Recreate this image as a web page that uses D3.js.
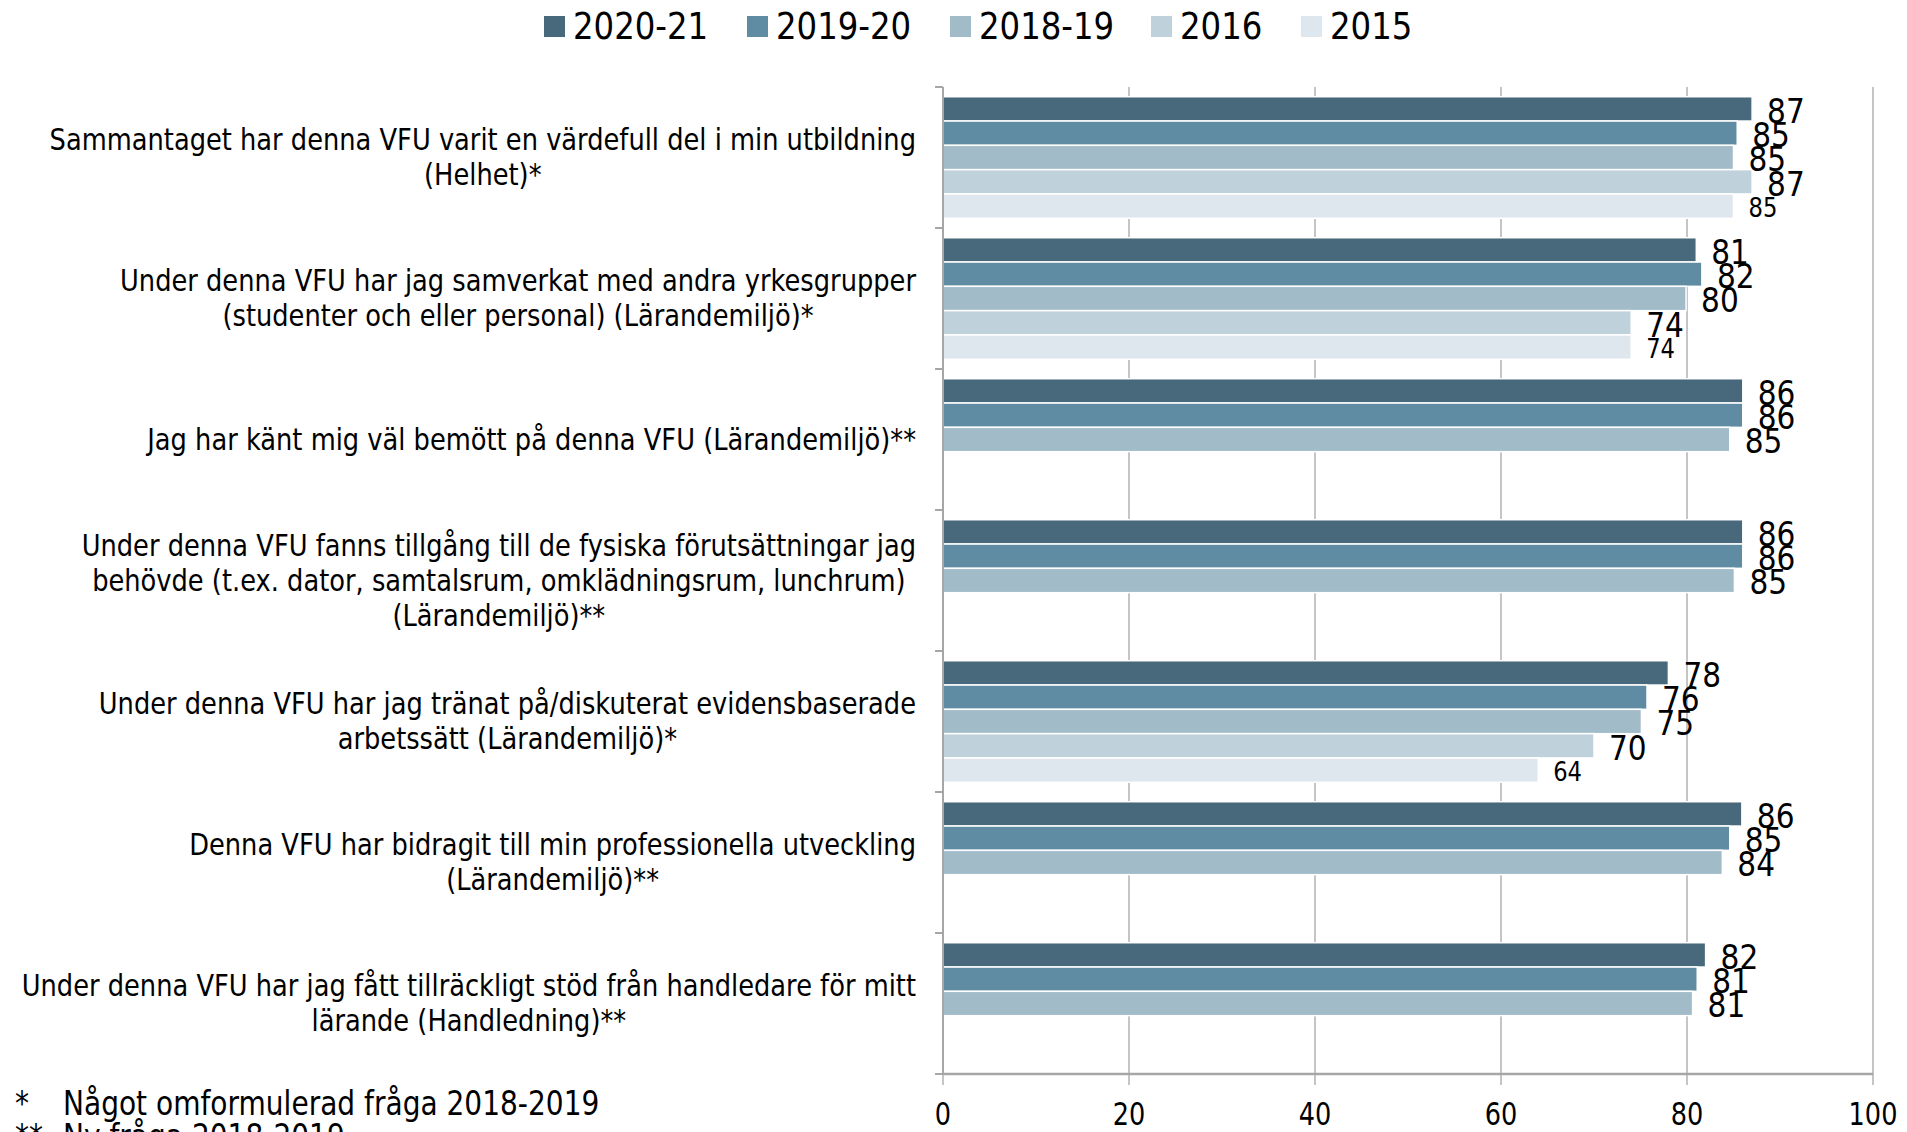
<!DOCTYPE html>
<html>
<head>
<meta charset="utf-8">
<script src="https://cdn.jsdelivr.net/npm/d3@7"></script>
<style>
  body { margin: 0; background: #fff; }
  svg text { font-family: "DejaVu Sans", Verdana, sans-serif; fill: #000; }
</style>
</head>
<body>
<svg id="chart" width="1907" height="1132"></svg>
<script>
// data
const categories = [
  ["Sammantaget har denna VFU varit en värdefull del i min utbildning", "(Helhet)*"],
  ["Under denna VFU har jag samverkat med andra yrkesgrupper", "(studenter och eller personal) (Lärandemiljö)*"],
  ["Jag har känt mig väl bemött på denna VFU (Lärandemiljö)**"],
  ["Under denna VFU fanns tillgång till de fysiska förutsättningar jag", "behövde (t.ex. dator, samtalsrum, omklädningsrum, lunchrum)", "(Lärandemiljö)**"],
  ["Under denna VFU har jag tränat på/diskuterat evidensbaserade", "arbetssätt (Lärandemiljö)*"],
  ["Denna VFU har bidragit till min professionella utveckling", "(Lärandemiljö)**"],
  ["Under denna VFU har jag fått tillräckligt stöd från handledare för mitt", "lärande (Handledning)**"]
];
const series = ["2020-21", "2019-20", "2018-19", "2016", "2015"];
const colors = ["#48687b", "#5f8ca3", "#a1bbc9", "#bfd1db", "#dfe7ee"];

const v2021 = [87.0, 81.0, 86.0, 86.0, 78.0, 85.9, 82.0];
const v1920 = [85.4, 81.6, 86.0, 86.0, 75.7, 84.6, 81.1];
const v1819 = [85.0, 79.9, 84.6, 85.1, 75.1, 83.8, 80.6];
const v2016 = [87.0, 74.0, null, null, 70.0, null, null];
const v2015 = [85.0, 74.0, null, null, 64.0, null, null];
const values = [v2021, v1920, v1819, v2016, v2015];

const xTicks = [0, 20, 40, 60, 80, 100];
const footnotes = [["*", "Något omformulerad fråga 2018-2019"], ["**", "Ny fråga 2018-2019"]];

const svg = d3.select("#chart");

// text squeezed horizontally by k, like the narrow face of the original
function sText(g, x, y, str, size, anchor, k) {
  const t = g.append("g")
      .attr("transform", `translate(${x},${y}) scale(${k},1)`)
    .append("text")
      .attr("font-size", size)
      .attr("text-anchor", anchor || "start")
      .attr("dominant-baseline", "central")
      .text(str);
  return t;
}

const pLeft = 943, pRight = 1873, pTop = 87, pBottom = 1074;
const x = d3.scaleLinear().domain([0, 100]).range([pLeft, pRight]);
const y0 = d3.scaleBand().domain(d3.range(categories.length)).range([pTop, pBottom])
    .paddingInner(0.138).paddingOuter(0.069);
const y1 = d3.scaleBand().domain(d3.range(series.length)).range([0, y0.bandwidth()]);

// gridlines
svg.append("g").selectAll("line").data(xTicks.slice(1)).join("line")
    .attr("x1", d => x(d)).attr("x2", d => x(d))
    .attr("y1", pTop).attr("y2", pBottom + 11)
    .attr("stroke", "#a6a6a6").attr("stroke-width", 1.3);
svg.append("line").attr("x1", x(0)).attr("x2", x(0)).attr("y1", pBottom).attr("y2", pBottom + 11)
    .attr("stroke", "#a6a6a6").attr("stroke-width", 1.3);

// bars
const rows = [];
categories.forEach((c, i) => series.forEach((s, j) => {
  if (values[j][i] != null) rows.push({ i, j, v: values[j][i] });
}));
svg.append("g").selectAll("rect").data(rows).join("rect")
    .attr("x", x(0))
    .attr("y", d => y0(d.i) + y1(d.j))
    .attr("width", d => x(d.v) - x(0))
    .attr("height", y1.bandwidth())
    .attr("fill", d => colors[d.j])
    .attr("stroke", "#fff").attr("stroke-width", 1.5);

// value labels
const lab = svg.append("g");
rows.forEach(d => {
  const small = d.j === 4;
  sText(lab, x(d.v) + 15, y0(d.i) + y1(d.j) + y1.bandwidth() / 2 + 2,
        d3.format(".0f")(d.v), small ? 27 : 34, "start", small ? 0.84 : 0.87);
});

// axes
const ax = svg.append("g");
ax.append("line").attr("x1", x(0)).attr("x2", x(100)).attr("y1", pBottom).attr("y2", pBottom)
    .attr("stroke", "#a6a6a6").attr("stroke-width", 2.5);
ax.append("line").attr("x1", x(0)).attr("x2", x(0)).attr("y1", pTop).attr("y2", pBottom)
    .attr("stroke", "#a6a6a6").attr("stroke-width", 2);
const bounds = d3.range(categories.length + 1).map(i => pTop + i * y0.step());
ax.selectAll(".yt").data(bounds).join("line")
    .attr("x1", x(0) - 8).attr("x2", x(0)).attr("y1", d => d).attr("y2", d => d)
    .attr("stroke", "#a6a6a6").attr("stroke-width", 2);
xTicks.forEach(t => sText(ax, x(t), 1114, String(t), 32, "middle", 0.8));

// category labels: lines centred, block right-aligned
const cg = svg.append("g");
const lineH = 35, KC = 0.83;
categories.forEach((lines, i) => {
  const cy = pTop + i * y0.step() + y0.step() / 2;
  const ly = k => cy + (k - (lines.length - 1) / 2) * lineH;
  const texts = lines.map((l, k) => sText(cg, 0, ly(k), l, 31, "middle", KC));
  const w = d3.max(texts, t => t.node().getComputedTextLength()) * KC;
  texts.forEach((t, k) => d3.select(t.node().parentNode)
      .attr("transform", `translate(${916 - w / 2},${ly(k)}) scale(${KC},1)`));
});

// legend
const lg = svg.append("g");
const legX = [544, 747, 950, 1151, 1301];
series.forEach((s, j) => {
  lg.append("rect").attr("x", legX[j]).attr("y", 16).attr("width", 21).attr("height", 21).attr("fill", colors[j]);
  sText(lg, legX[j] + 29, 26, s, 37, "start", 0.875);
});

// footnotes
const fg = svg.append("g");
footnotes.forEach((f, k) => {
  sText(fg, 15, 1104 + k * 33, f[0], 33, "start", 0.85);
  sText(fg, 63, 1104 + k * 33, f[1], 33, "start", 0.85);
});
</script>
</body>
</html>
